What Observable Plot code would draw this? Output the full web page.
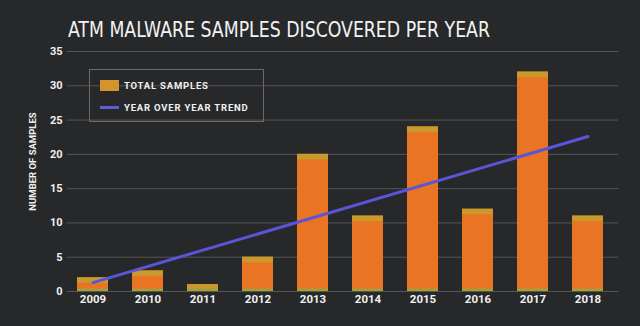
<!DOCTYPE html>
<html>
<head>
<meta charset="utf-8">
<script src="https://cdn.jsdelivr.net/npm/d3@7"></script>
<script src="https://cdn.jsdelivr.net/npm/@observablehq/plot@0.6"></script>
<style>
  html, body { margin: 0; padding: 0; background: #27282a; }
  #wrap { position: relative; width: 640px; height: 326px; overflow: hidden; background: #27282a; }
  #title { position: absolute; left: 68px; top: 19px; font-family: "Liberation Sans Narrow", "DejaVu Sans Condensed", sans-serif; font-size: 22px; line-height: 22px; color: #f2f2f2; white-space: nowrap; transform-origin: 0 0; }
  #chart { position: absolute; left: 0; top: 40px; }
  #legend { position: absolute; left: 89px; top: 69px; width: 173px; height: 51px; border: 1px solid #6a6a6a; box-sizing: content-box; }
  .lg-item { position: absolute; left: 34px; font-family: Roboto, sans-serif; font-weight: 700; font-size: 9.5px; letter-spacing: 0.8px; color: #f0f0f0; line-height: 10px; white-space: nowrap; }
  .sw { position: absolute; left: 10px; }
</style>
</head>
<body>
<div id="wrap">
  <div id="title">ATM MALWARE SAMPLES DISCOVERED PER YEAR</div>
  <div id="chart"></div>
  <div id="legend">
    <div class="sw" style="top:10px;width:19px;height:11px;background:#d4932b"></div>
    <div class="lg-item" style="top:11px">TOTAL SAMPLES</div>
    <div class="sw" style="top:36px;width:19px;height:3px;background:#5a5fd4"></div>
    <div class="lg-item" style="top:33px">YEAR OVER YEAR TREND</div>
  </div>
</div>
<script>
const years = ["2009","2010","2011","2012","2013","2014","2015","2016","2017","2018"];
const samples = [2, 3, 1, 5, 20, 11, 24, 12, 32, 11];
const trendYears = ["2009", "2018"];
const trendValues = [1.3, 22.6];
const yTicks = [0, 5, 10, 15, 20, 25, 30, 35];
const yLabel = "NUMBER OF SAMPLES";

const bars = years.map((y, i) => ({year: y, value: samples[i]}));
const trend = trendYears.map((y, i) => ({year: y, value: trendValues[i]}));

const chart = Plot.plot({
  width: 640,
  height: 286,
  marginTop: 11,
  marginBottom: 35,
  marginLeft: 67,
  marginRight: 22,
  style: {background: "transparent", color: "#f0f0f0", fontFamily: "Roboto, sans-serif"},
  x: {domain: years, range: [63, 617], paddingInner: 0.44, paddingOuter: 0.22, label: null},
  y: {domain: [0, 35], label: null},
  marks: [
    Plot.ruleY(yTicks, {stroke: "#565656", strokeWidth: 1}),
    Plot.barY(bars, {x: "year", y: "value", fill: "#e97524"}),
    Plot.barY(bars, {x: "year", y1: d => Math.max(0, d.value - 0.8), y2: "value", fill: "#c89a2e"}),
    Plot.barY(bars, {x: "year", y1: 0, y2: d => Math.min(d.value, 0.35), fill: "#a3a136"}),
    Plot.line(trend, {x: "year", y: "value", stroke: "#5a55d6", strokeWidth: 3, strokeLinecap: "round"}),
    Plot.axisY(yTicks, {tickSize: 0, tickPadding: 5, fontSize: 11, fontWeight: 700, fill: "#f0f0f0", label: null}),
    Plot.axisX({tickSize: 0, tickPadding: 3, fontSize: 11.5, fontWeight: 700, fill: "#f0f0f0", label: null}),
    Plot.text([yLabel], {frameAnchor: "left", text: d => d, rotate: -90, textAnchor: "middle", dx: -35, dy: -10, fontSize: 9.5, fontWeight: 700, fill: "#f0f0f0"})
  ]
});
document.getElementById("chart").appendChild(chart);

const t = document.getElementById("title");
const w = t.getBoundingClientRect().width;
t.style.transform = `scaleX(${422 / w})`;
</script>
</body>
</html>
